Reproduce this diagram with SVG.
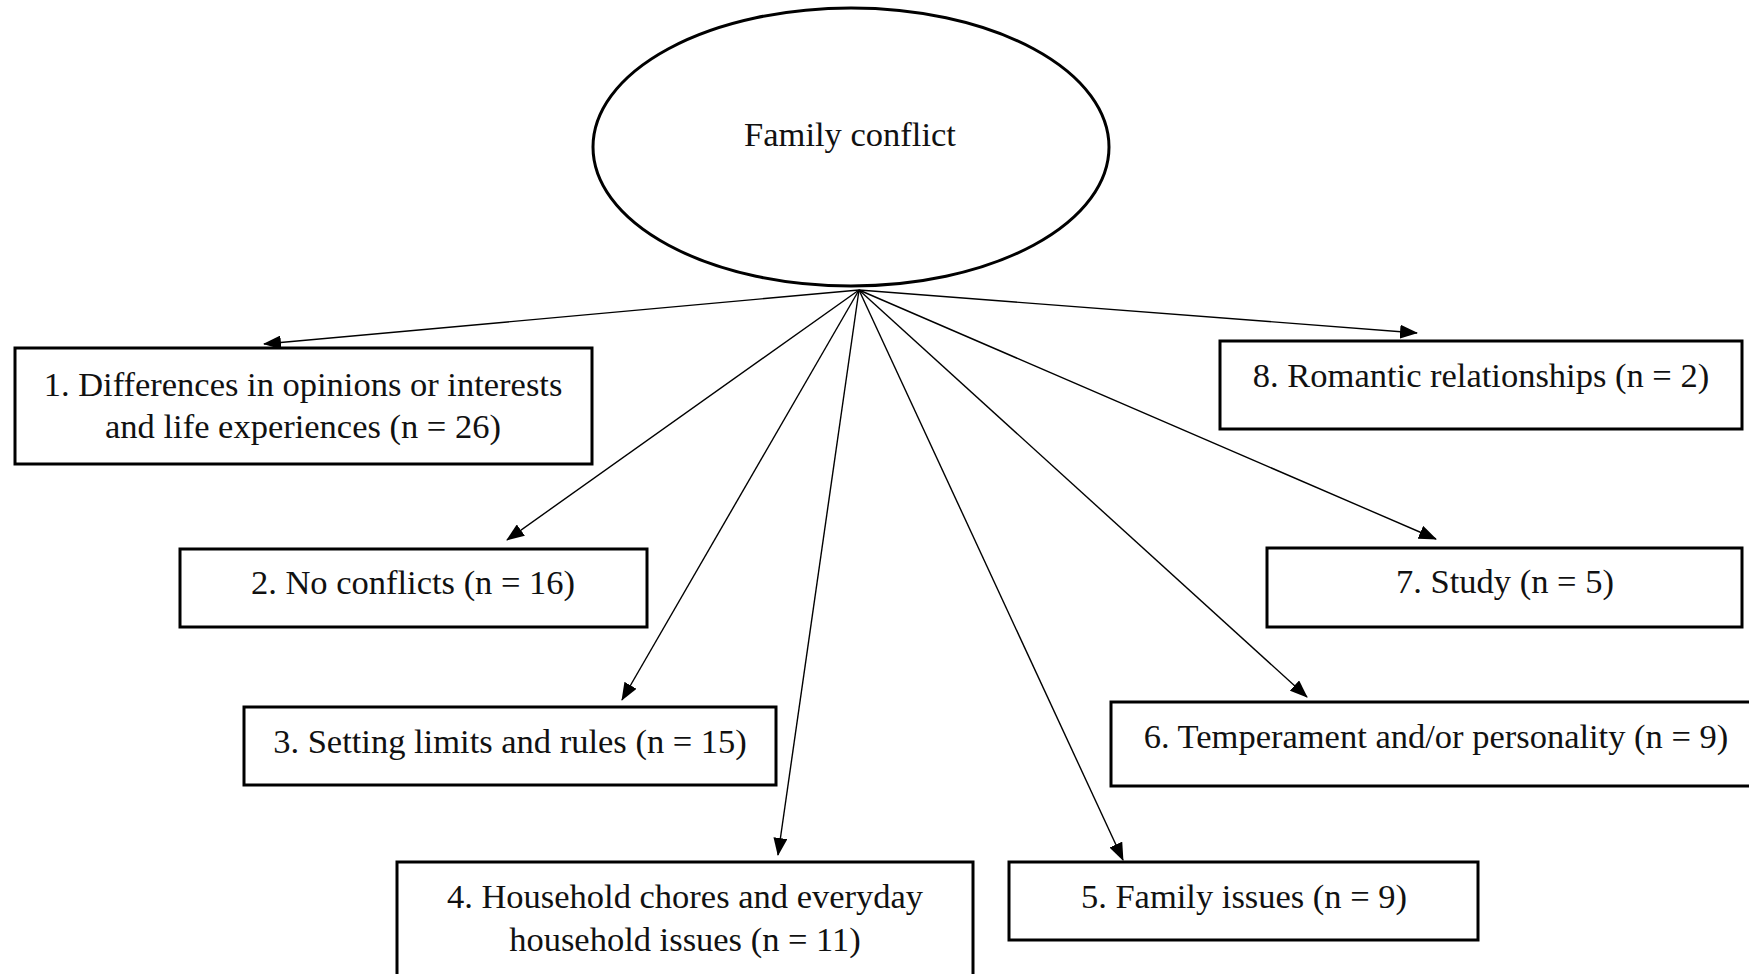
<svg xmlns="http://www.w3.org/2000/svg" width="1749" height="974" viewBox="0 0 1749 974">
<style>
.box{fill:#fff;stroke:#000;stroke-width:3}
.t{font-family:"Liberation Serif","Times New Roman",serif;font-size:34.5px;fill:#111;text-anchor:middle}
.c{stroke:#000;stroke-width:1.4;fill:none;marker-end:url(#ah)}
</style>
<defs>
<marker id="ah" markerWidth="18" markerHeight="14" refX="17" refY="7" orient="auto" markerUnits="userSpaceOnUse">
<path d="M0,0 L18,7 L0,14 Z" fill="#000"/>
</marker>
</defs>
<rect width="1749" height="974" fill="#fff"/>
<g id="root">
<ellipse cx="851" cy="147" rx="258" ry="139" fill="#fff" stroke="#000" stroke-width="3"/>
<text class="t" x="850" y="146">Family conflict</text>
</g>
<g id="connectors">
<line class="c" x1="859" y1="290" x2="264" y2="344"/>
<line class="c" x1="859" y1="290" x2="507" y2="540"/>
<line class="c" x1="859" y1="290" x2="622" y2="700"/>
<line class="c" x1="859" y1="290" x2="778" y2="855"/>
<line class="c" x1="859" y1="290" x2="1123" y2="860"/>
<line class="c" x1="859" y1="290" x2="1307" y2="697"/>
<line class="c" x1="859" y1="290" x2="1436" y2="539"/>
<line class="c" x1="859" y1="290" x2="1417" y2="333"/>
</g>
<g id="n1">
<rect class="box" x="15" y="348" width="577" height="116"/>
<text class="t" x="303" y="396">1. Differences in opinions or interests</text>
<text class="t" x="303" y="438">and life experiences (n = 26)</text>
</g>
<g id="n2">
<rect class="box" x="180" y="549" width="467" height="78"/>
<text class="t" x="413" y="594">2. No conflicts (n = 16)</text>
</g>
<g id="n3">
<rect class="box" x="244" y="707" width="532" height="78"/>
<text class="t" x="510" y="753">3. Setting limits and rules (n = 15)</text>
</g>
<g id="n4">
<rect class="box" x="397" y="862" width="576" height="114"/>
<text class="t" x="685" y="908">4. Household chores and everyday</text>
<text class="t" x="685" y="951">household issues (n = 11)</text>
</g>
<g id="n5">
<rect class="box" x="1009" y="862" width="469" height="78"/>
<text class="t" x="1244" y="908">5. Family issues (n = 9)</text>
</g>
<g id="n6">
<rect class="box" x="1111" y="702" width="640" height="84"/>
<text class="t" x="1436" y="748">6. Temperament and/or personality (n = 9)</text>
</g>
<g id="n7">
<rect class="box" x="1267" y="548" width="475" height="79"/>
<text class="t" x="1505" y="593">7. Study (n = 5)</text>
</g>
<g id="n8">
<rect class="box" x="1220" y="341" width="522" height="88"/>
<text class="t" x="1481" y="387">8. Romantic relationships (n = 2)</text>
</g>
</svg>
